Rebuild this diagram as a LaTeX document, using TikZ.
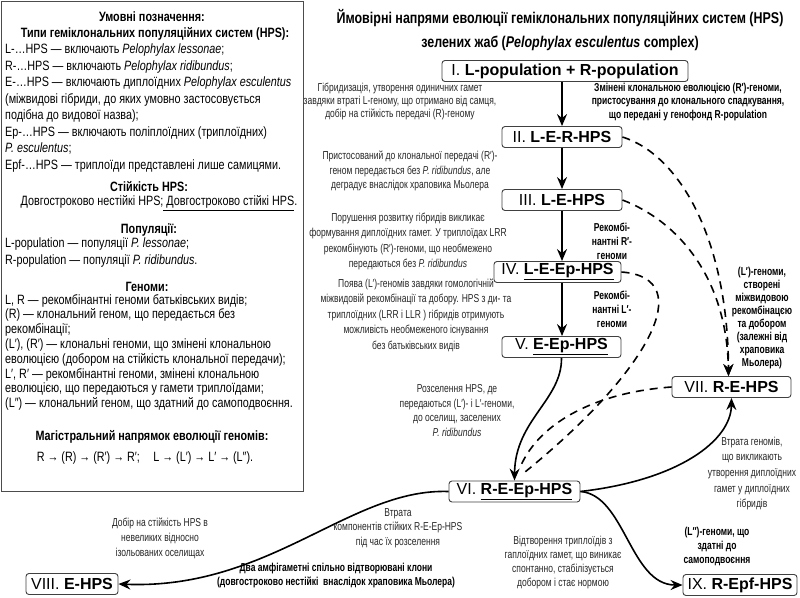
\documentclass[tikz,border=0pt]{standalone}
\usepackage{fontspec}
\setmainfont{Liberation Sans}
\newfontfamily\cnd{Liberation Sans}[FakeStretch=0.74]
\newfontfamily\cndl{Liberation Sans}[FakeStretch=0.8]
\usepackage{tikz}
\usetikzlibrary{positioning,shapes,arrows.meta,calc}

\begin{document}
\begin{tikzpicture}[x=1pt,y=-1pt,
    >={Stealth[length=12pt,width=10pt,inset=4pt]},
    hps/.style={draw=black!75, line width=0.9pt, rounded corners=3pt, fill=white,
        inner xsep=4pt, inner ysep=0pt, minimum height=21pt, font=\fontsize{16}{16}\selectfont},
    note/.style={align=center, text=black!85, inner sep=0pt, font=\cnd\fontsize{11.5}{14.5}\selectfont},
    bnote/.style={align=center, inner sep=0pt, font=\cnd\bfseries\fontsize{11.5}{13.5}\selectfont},
    legh/.style={inner sep=0pt, font=\cndl\bfseries\fontsize{13.5}{16}\selectfont},
    legtxt/.style={align=left, anchor=north west, inner sep=0pt, font=\cndl\fontsize{13.5}{16.5}\selectfont},
    flow/.style={->, line width=1.6pt},
    side/.style={line width=1.6pt, dash pattern=on 8pt off 6pt}]

    \useasboundingbox (0,0) rectangle (800,597);

    % legend
    \draw[line width=1pt, black!70] (1.5,1.5) rectangle (303,491);
    \node[legh] (legtitle) at (152,17) {Умовні позначення:};
    \node[legh] (legtypes) at (155,34) {Типи геміклональних популяційних систем (HPS):};
    \node[legtxt] (legtypestxt) at (5,44) {L-…HPS — включають \textit{Pelophylax lessonae};\\
        R-…HPS — включають \textit{Pelophylax ridibundus};\\
        E-…HPS — включають диплоїдних \textit{Pelophylax esculentus}\\
        (міжвидові гібриди, до яких умовно застосовується\\
        подібна до видової назва);\\
        Ep-…HPS — включають поліплоїдних (триплоїдних)\\
        \textit{P. esculentus};\\
        Epf-…HPS — триплоїди представлені лише самицями.};
    \node[legh] (legstab) at (149,187) {Стійкість HPS:};
    \node[legh, font=\cndl\fontsize{13.5}{16.5}\selectfont] (legstabtxt) at (159,203)
        {Довгостроково нестійкі HPS;\underline{ Довгостроково стійкі HPS}.};
    \node[legh] (legpop) at (149,230) {Популяції:};
    \node[legtxt] (legpoptxt) at (5,238) {L-population — популяції \textit{P. lessonae};\\
        R-population — популяції \textit{P. ridibundus}.};
    \node[legh] (leggen) at (147,287) {Геноми:};
    \node[legtxt, font=\cndl\fontsize{13.5}{14.8}\selectfont] (leggentxt) at (5,294)
        {L, R — рекомбінантні геноми батьківських видів;\\
        (R) — клональний геном, що передається без\\
        рекомбінації;\\
        (L′), (R′) — клональні геноми, що змінені клональною\\
        еволюцією (добором на стійкість клональної передачи);\\
        L′, R′ — рекомбінантні геноми, змінені клональною\\
        еволюцією, що передаються у гамети триплоїдами;\\
        (L″) — клональний геном, що здатний до самоподвоєння.};
    \node[legh] (legmain) at (152,437) {Магістральний напрямок еволюції геномів:};
    \node[legh, font=\cndl\fontsize{13.5}{16.5}\selectfont] (legmaintxt) at (145,458)
        {R → (R) → (R′) → R′;\quad L → (L′) → L′ → (L″).};

    % title
    \node[align=center, inner sep=0pt, font=\cndl\bfseries\fontsize{15.6}{24}\selectfont] (title) at (560,30)
        {Ймовірні напрями еволюції геміклональних популяційних систем (HPS)\\
        зелених жаб (\textit{Pelophylax esculentus} complex)};

    % HPS
    \node[hps, minimum width=246pt] (n1) at (565,71) {I. \textbf{L-population + R-population}};
    \node[hps, minimum width=120pt] (n2) at (562,137) {II. \textbf{L-E-R-HPS}};
    \node[hps, minimum width=120pt] (n3) at (562,200) {III. \textbf{L-E-HPS}};
    \node[hps, minimum width=127pt] (n4) at (557.5,272) {IV. \textbf{\underline{L-E-Ep-HPS}}};
    \node[hps, minimum width=119pt] (n5) at (561.5,347) {V. \textbf{\underline{E-Ep-HPS}}};
    \node[hps, minimum width=131pt] (n6) at (514.5,491.5) {VI. \textbf{\underline{R-E-Ep-HPS}}};
    \node[hps, minimum width=119pt] (n7) at (731.5,387) {VII. \textbf{R-E-HPS}};
    \node[hps, minimum width=92pt] (n8) at (72,584) {VIII. \textbf{E-HPS}};
    \node[hps, minimum width=114pt] (n9) at (740,585) {IX. \textbf{R-Epf-HPS}};

    \draw[flow] (n1.south -| n2.north) -- (n2.north);
    \draw[flow] (n2) -- (n3);
    \draw[flow] (n3.south) -- (n3.south |- n4.north);
    \draw[flow] (n3.south |- n4.south) -- (n3.south |- n5.north);

    \draw[side, ->] (n2.east) .. controls (680,155) and (728,240) .. ($(n7.north)+(-3,0)$);
    \draw[side, ->] (n3.east) .. controls (680,222) and (727,280) .. ($(n7.north)+(-3,0)$);
    \draw[side, shorten >=14pt] (n4.east) .. controls (700,278) and (648,372) .. (n6.north);
    \draw[side, shorten >=14pt] (n7.west) .. controls (600,392) and (540,420) .. (n6.north);

    \draw[flow] (n5.south) .. controls (562,400) and (515,420) .. (n6.north);
    \draw[flow] (n6.east) .. controls (680,480) and (731,440) .. (n7.south);
    \draw[flow] (n6.east) .. controls (625,495) and (630,585) .. (n9.west);
    \draw[flow] (n6.west) .. controls (350,488) and (270,590) .. (n8.east);

    % notes
    \node[note, font=\cnd\fontsize{11.5}{13.3}\selectfont] (t1) at (400,101.5)
        {Гібридизація, утворення одиничних гамет\\
        завдяки втраті L-геному, що отримано від самця,\\
        добір на стійкість передачі (R)-геному};
    \node[bnote, font=\cnd\bfseries\fontsize{11.5}{13.3}\selectfont] (t2) at (688,102)
        {Змінені клональною еволюцією (R′)-геноми,\\
        пристосування до клонального спадкування,\\
        що передані у генофонд R-population};
    \node[note] (t3) at (410,171)
        {Пристосований до клональної передачі (R′)-\\
        геном передається без \textit{P. ridibundus}, але\\
        деградує внаслідок храповика Мьолера};
    \node[note, font=\cnd\fontsize{11.5}{15.3}\selectfont] (t4) at (408,241.5)
        {Порушення розвитку гібридів викликає\\
        формування диплоїдних гамет. У триплоїдах LRR\\
        рекомбінують (R′)-геноми, що необмежено\\
        передаються без \textit{P. ridibundus}};
    \node[note, font=\cnd\fontsize{11.5}{15.5}\selectfont] (t5) at (416,315)
        {Поява (L′)-геномів завдяки гомологічній\\
        міжвидовій рекомбінації та добору. HPS з ди- та\\
        триплоїдних (LRR і LLR ) гібридів отримують\\
        можливість необмеженого існування\\
        без батьківських видів};
    \node[bnote, font=\cnd\bfseries\fontsize{11.5}{14}\selectfont] (t6) at (612,241)
        {Рекомбі-\\нантні R′-\\геноми};
    \node[bnote, font=\cnd\bfseries\fontsize{11.5}{14}\selectfont] (t7) at (612,309)
        {Рекомбі-\\нантні L′-\\геноми};
    \node[bnote, font=\cnd\bfseries\fontsize{11.5}{13}\selectfont] (t8) at (762,318.5)
        {(L′)-геноми,\\створені\\міжвидовою\\рекомбінацєю\\та добором\\(залежні від\\храповика\\Мьолера)};
    \node[note] (t9) at (457,410.5)
        {Розселення HPS, де\\
        передаються (L′)- і L′-геноми,\\
        до оселищ, заселених\\
        \textit{P. ridibundus}};
    \node[note, font=\cnd\fontsize{11.5}{15.7}\selectfont] (t10) at (752,473.5)
        {Втрата геномів,\\що викликають\\утворення диплоїдних\\гамет у диплоїдних\\гібридів};
    \node[note] (t11) at (398,528)
        {Втрата\\компонентів стійких R-E-Ep-HPS\\під час їх розселення};
    \node[note, font=\cnd\fontsize{11.5}{15}\selectfont] (t12) at (160,538)
        {Добір на стійкість HPS в\\невеликих відносно\\ізольованих оселищах};
    \node[bnote, font=\cnd\bfseries\fontsize{11.5}{14}\selectfont] (t13) at (336,576)
        {Два амфігаметні спільно відтворювані клони\\
        (довгостроково нестійкі\ \ внаслідок храповика Мьолера)};
    \node[note, font=\cnd\fontsize{11.5}{14}\selectfont] (t14) at (563,563)
        {Відтворення триплоїдів з\\
        гаплоїдних гамет, що виникає\\
        спонтанно, стабілізується\\
        добором і стає нормою};
    \node[bnote, font=\cnd\bfseries\fontsize{11.5}{14}\selectfont] (t15) at (717,546)
        {(L″)-геноми, що\\здатні до\\самоподвоєння};
\end{tikzpicture}
\end{document}
